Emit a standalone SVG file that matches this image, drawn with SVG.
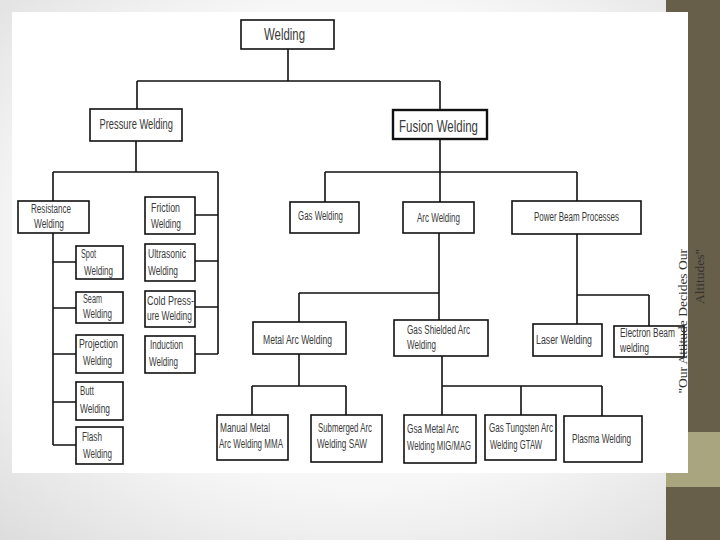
<svg xmlns="http://www.w3.org/2000/svg" width="720" height="540" viewBox="0 0 720 540">
<defs>
<radialGradient id="bg" cx="50%" cy="45%" r="75%">
<stop offset="0" stop-color="#ffffff"/>
<stop offset="0.6" stop-color="#f7f7f7"/>
<stop offset="1" stop-color="#dcdcdc"/>
</radialGradient>
<style>
.box{fill:#ffffff;stroke:#111;stroke-width:1.6}
.thick{stroke-width:2.4}
.t{font-family:"Liberation Sans Narrow","Liberation Sans",Arial,sans-serif;font-size:12px;fill:#3a3a3a}
.tl{font-size:14px}
.tx{font-size:17px}
.conn path{fill:none;stroke:#111;stroke-width:1.6}
.quote{font-family:"Liberation Serif","Times New Roman",serif;font-size:13.5px;fill:#333}
</style>
</defs>
<rect x="0" y="0" width="720" height="540" fill="url(#bg)"/>
<rect x="666" y="0" width="54" height="540" fill="#675f49"/>
<rect x="666" y="432" width="54" height="55" fill="#a9a57f"/>
<rect x="12" y="12" width="676" height="461" fill="#ffffff"/>

<g class="conn" id="connectors">
<path d="M288 49V81M137 81H440M137 81V109M440 81V110"/>
<path d="M136 141V172M53 172H218M53 172V201M218 172V354M53 233V445"/>
<path d="M53 262H76M53 308H76M53 354H76M53 402H76M53 445H76"/>
<path d="M195 215H218M195 261H218M195 307H218M195 354H218"/>
<path d="M440 139V172M325 172H577M325 172V202M440 172V202M577 172V201"/>
<path d="M439 233V320M299 293H439M299 293V322"/>
<path d="M299 354V386M252 386H346M252 386V415M346 386V415"/>
<path d="M442 356V415M442 386H602M521 386V415M602 386V416"/>
<path d="M577 234V324M577 295H649M649 295V326"/>
</g>

<g id="welding"><rect class="box" x="241" y="20" width="93" height="29"/><text class="t tx" x="264" y="40" textLength="41" lengthAdjust="spacingAndGlyphs">Welding</text></g>
<g id="pressure-welding"><rect class="box" x="90" y="109" width="92" height="32"/><text class="t tl" x="99.5" y="129" textLength="73.5" lengthAdjust="spacingAndGlyphs">Pressure Welding</text></g>
<g id="fusion-welding"><rect class="box thick" x="393" y="110" width="94" height="29"/><text class="t tx" x="399" y="132" textLength="79" lengthAdjust="spacingAndGlyphs">Fusion Welding</text></g>

<g id="resistance-welding"><rect class="box" x="18" y="201" width="71" height="32"/><text class="t" x="31" y="213" textLength="40" lengthAdjust="spacingAndGlyphs">Resistance</text><text class="t" x="34" y="228" textLength="30" lengthAdjust="spacingAndGlyphs">Welding</text></g>
<g id="friction-welding"><rect class="box" x="145" y="197" width="50" height="37"/><text class="t" x="151" y="212" textLength="29" lengthAdjust="spacingAndGlyphs">Friction</text><text class="t" x="151" y="228" textLength="30" lengthAdjust="spacingAndGlyphs">Welding</text></g>
<g id="spot-welding"><rect class="box" x="76" y="246" width="47" height="33"/><text class="t" x="81" y="258" textLength="15" lengthAdjust="spacingAndGlyphs">Spot</text><text class="t" x="84" y="275" textLength="29" lengthAdjust="spacingAndGlyphs">Welding</text></g>
<g id="ultrasonic-welding"><rect class="box" x="145" y="244" width="50" height="37"/><text class="t" x="148" y="258" textLength="38" lengthAdjust="spacingAndGlyphs">Ultrasonic</text><text class="t" x="148" y="275" textLength="30" lengthAdjust="spacingAndGlyphs">Welding</text></g>
<g id="seam-welding"><rect class="box" x="76" y="292" width="47" height="31"/><text class="t" x="83" y="303" textLength="19" lengthAdjust="spacingAndGlyphs">Seam</text><text class="t" x="83" y="318" textLength="29" lengthAdjust="spacingAndGlyphs">Welding</text></g>
<g id="cold-pressure-welding"><rect class="box" x="145" y="291" width="50" height="36"/><text class="t" x="147" y="305" textLength="47" lengthAdjust="spacingAndGlyphs">Cold Press-</text><text class="t" x="147" y="320" textLength="45" lengthAdjust="spacingAndGlyphs">ure Welding</text></g>
<g id="projection-welding"><rect class="box" x="76" y="335" width="47" height="38"/><text class="t" x="79" y="348" textLength="39" lengthAdjust="spacingAndGlyphs">Projection</text><text class="t" x="83" y="365" textLength="29" lengthAdjust="spacingAndGlyphs">Welding</text></g>
<g id="induction-welding"><rect class="box" x="145" y="336" width="50" height="37"/><text class="t" x="150" y="349" textLength="33" lengthAdjust="spacingAndGlyphs">Induction</text><text class="t" x="149" y="366" textLength="29" lengthAdjust="spacingAndGlyphs">Welding</text></g>
<g id="butt-welding"><rect class="box" x="76" y="382" width="47" height="38"/><text class="t" x="80" y="395" textLength="14" lengthAdjust="spacingAndGlyphs">Butt</text><text class="t" x="80" y="413" textLength="30" lengthAdjust="spacingAndGlyphs">Welding</text></g>
<g id="flash-welding"><rect class="box" x="76" y="427" width="47" height="37"/><text class="t" x="82" y="441" textLength="20" lengthAdjust="spacingAndGlyphs">Flash</text><text class="t" x="83" y="458" textLength="29" lengthAdjust="spacingAndGlyphs">Welding</text></g>

<g id="gas-welding"><rect class="box" x="290" y="202" width="69" height="31"/><text class="t" x="298" y="220" textLength="45" lengthAdjust="spacingAndGlyphs">Gas Welding</text></g>
<g id="arc-welding"><rect class="box" x="403" y="202" width="71" height="31"/><text class="t" x="417" y="222" textLength="43" lengthAdjust="spacingAndGlyphs">Arc Welding</text></g>
<g id="power-beam-processes"><rect class="box" x="512" y="201" width="129" height="33"/><text class="t" x="534" y="221" textLength="85" lengthAdjust="spacingAndGlyphs">Power Beam Processes</text></g>
<g id="metal-arc-welding"><rect class="box" x="253" y="322" width="93" height="32"/><text class="t" x="263" y="344" textLength="69" lengthAdjust="spacingAndGlyphs">Metal Arc Welding</text></g>
<g id="gas-shielded-arc-welding"><rect class="box" x="394" y="320" width="94" height="36"/><text class="t" x="407" y="334" textLength="63" lengthAdjust="spacingAndGlyphs">Gas Shielded Arc</text><text class="t" x="407" y="349" textLength="29" lengthAdjust="spacingAndGlyphs">Welding</text></g>
<g id="laser-welding"><rect class="box" x="533" y="324" width="69" height="32"/><text class="t" x="536" y="344" textLength="56" lengthAdjust="spacingAndGlyphs">Laser Welding</text></g>
<g id="electron-beam-welding"><rect class="box" x="614" y="326" width="70" height="31"/><text class="t" x="620" y="337" textLength="55" lengthAdjust="spacingAndGlyphs">Electron Beam</text><text class="t" x="620" y="352" textLength="29" lengthAdjust="spacingAndGlyphs">welding</text></g>
<g id="mma"><rect class="box" x="217" y="415" width="71" height="45"/><text class="t" transform="translate(220 432) scale(0.65 1)" textLength="77" lengthAdjust="spacingAndGlyphs">Manual Metal</text><text class="t" transform="translate(219 448) scale(0.65 1)" textLength="98.5" lengthAdjust="spacingAndGlyphs">Arc Welding MMA</text></g>
<g id="saw"><rect class="box" x="311" y="415" width="71" height="47"/><text class="t" transform="translate(318 432) scale(0.65 1)" textLength="83" lengthAdjust="spacingAndGlyphs">Submerged Arc</text><text class="t" transform="translate(317 448) scale(0.65 1)" textLength="77" lengthAdjust="spacingAndGlyphs">Welding SAW</text></g>
<g id="gmaw"><rect class="box" x="404" y="415" width="72" height="48"/><text class="t" transform="translate(407 433) scale(0.65 1)" textLength="80" lengthAdjust="spacingAndGlyphs">Gsa Metal Arc</text><text class="t" transform="translate(407 450) scale(0.65 1)" textLength="98.5" lengthAdjust="spacingAndGlyphs">Welding MIG/MAG</text></g>
<g id="gtaw"><rect class="box" x="485" y="415" width="71" height="45"/><text class="t" transform="translate(489 432) scale(0.65 1)" textLength="98.5" lengthAdjust="spacingAndGlyphs">Gas Tungsten Arc</text><text class="t" transform="translate(490 449) scale(0.65 1)" textLength="80" lengthAdjust="spacingAndGlyphs">Welding GTAW</text></g>
<g id="plasma-welding"><rect class="box" x="564" y="416" width="78" height="46"/><text class="t" transform="translate(572 443) scale(0.65 1)" textLength="91" lengthAdjust="spacingAndGlyphs">Plasma Welding</text></g>

<text class="quote" transform="rotate(-90)" text-anchor="end"><tspan x="-249" y="687">"Our Attitude Decides Our</tspan><tspan x="-249" y="704">Altitudes"</tspan></text>
</svg>
